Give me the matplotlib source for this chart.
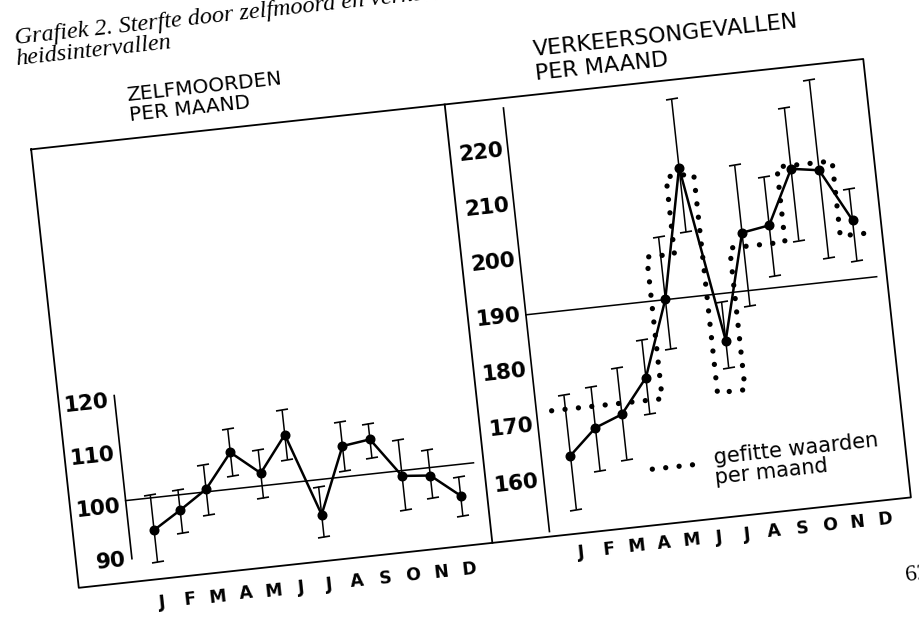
import numpy as np
import matplotlib
matplotlib.use("Agg")
import matplotlib.pyplot as plt
from matplotlib.transforms import Affine2D
from matplotlib.markers import MarkerStyle

ANGLE = 6.2  # the scanned page is tilted

# ── data ──────────────────────────────────────────────────────────────────────
months = ["J", "F", "M", "A", "M", "J", "J", "A", "S", "O", "N", "D"]

suicide    = [94.9, 98.1, 101.5, 107.9, 103.4, 110.1, 94.4, 106.8, 107.5, 100.0, 99.5, 95.1]
suicide_lo = [88.8, 93.7, 96.6, 103.4, 98.6, 105.4, 90.1, 102.1, 103.9, 93.5, 95.2, 91.2]
suicide_hi = [101.5, 102.0, 106.0, 112.3, 107.8, 114.7, 99.7, 111.3, 110.5, 106.8, 104.4, 98.7]
suicide_avg = 101
suicide_ticks = [90, 100, 110, 120]

traffic    = [163.9, 168.4, 170.3, 176.4, 190.1, 213.4, 181.5, 200.5, 201.3, 211.0, 210.2, 200.6]
traffic_lo = [154.1, 160.5, 162.1, 169.8, 181.0, 201.7, 176.6, 187.2, 192.1, 198.0, 194.2, 193.2]
traffic_hi = [174.8, 175.8, 178.7, 183.2, 201.3, 225.8, 188.5, 212.7, 210.0, 222.1, 226.5, 206.3]
traffic_fit = [172.3, 172.3, 172.3, 172.3, 198.0, 212.0, 172.3, 198.0, 198.0, 211.6, 211.6, 198.0]
traffic_avg = 190
traffic_ticks = [160, 170, 180, 190, 200, 210, 220]

# ── figure / page ─────────────────────────────────────────────────────────────
W, H = 920, 620
fig = plt.figure(figsize=(W / 100, H / 100), dpi=100)
rot = Affine2D().rotate_deg_around(W / 2, H / 2, ANGLE)

page = fig.add_axes([0, 0, 1, 1])
page.set_xlim(0, W)
page.set_ylim(H, 0)
page.set_axis_off()
page.patch.set_visible(False)
TP = page.transData + rot

dots = dict(color="k", lw=3.8, ls=(0, (0.01, 2.54)), dash_capstyle="round", clip_on=False)
txt = dict(rotation=ANGLE, rotation_mode="anchor", color="k", clip_on=False)


def px_axes(x0, x1, y0, y1):
    # rectangle in pixels of the untilted page, y measured from the top
    ax = fig.add_axes([x0 / W, 1 - y1 / H, (x1 - x0) / W, (y1 - y0) / H])
    ax.set_axis_off()
    ax.patch.set_visible(False)
    return ax


# outer frame and divider
page.plot([51, 888, 888, 51, 51], [104, 104, 545, 545, 104], color="k", lw=1.3,
          transform=TP, clip_on=False)
page.plot([467, 467], [104, 545], color="k", lw=1.3, transform=TP, clip_on=False)

# page heading (cut off by the scan)
page.text(47, -2, "Grafiek 2. Sterfte door zelfmoord en verkeersongevallen",
          family="Liberation Serif", style="italic", fontsize=17.5, va="baseline",
          transform=TP, **txt)
page.text(45.5, 19, "heidsintervallen", family="Liberation Serif", style="italic",
          fontsize=17.5, va="baseline", transform=TP, **txt)
page.text(874, 628, "62", family="Liberation Serif", fontsize=17, va="baseline",
          transform=TP, **txt)

# panel titles
page.text(151.6, 66.5, "ZELFMOORDEN", fontsize=14.5, va="baseline", transform=TP, **txt)
page.text(152, 86, "PER MAAND", fontsize=14.5, va="baseline", transform=TP, **txt)
page.text(561, 65.5, "VERKEERSONGEVALLEN", fontsize=16, va="baseline", transform=TP, **txt)
page.text(560.6, 90, "PER MAAND", fontsize=16, va="baseline", transform=TP, **txt)

# legend for the fitted values
page.plot([634, 675], [489, 489], transform=TP, **dots)
page.text(696, 490.6, "gefitte waarden", fontsize=15, va="baseline", transform=TP, **txt)
page.text(695.5, 510.7, "per maand", fontsize=15, va="baseline", transform=TP, **txt)

cap = MarkerStyle("_", transform=Affine2D().rotate_deg(ANGLE))


def panel(ax, vals, lo, hi, avg, ticks, axis_span, tick_gap, xlab_y, tick_size):
    T = ax.transData + rot
    TY = ax.get_yaxis_transform() + rot
    TX = ax.get_xaxis_transform() + rot
    x = np.arange(1, len(vals) + 1)

    # inner y axis and average line
    ax.plot([0, 0], axis_span, color="k", lw=1.2, transform=TY, clip_on=False)
    ax.plot([0, 0.972], [avg, avg], color="k", lw=1.1, transform=TY, clip_on=False)

    # confidence intervals
    ax.vlines(x, lo, hi, colors="k", lw=1.1, transform=T, clip_on=False)
    for ends in (lo, hi):
        ax.plot(x, ends, ls="none", marker=cap, ms=8, mew=1.2, color="k",
                transform=T, clip_on=False)

    ax.plot(x, vals, "-o", color="k", lw=1.8, ms=6.2, transform=T, clip_on=False)

    for v in ticks:
        ax.text(-tick_gap, v, str(v), fontsize=tick_size, fontweight="bold",
                ha="right", va="center", transform=TY, **txt)
    for xi, m in zip(x, months):
        ax.text(xi, xlab_y, m, fontsize=12.5, fontweight="bold",
                ha="center", va="center", transform=TX, **txt)
    return T


# ── left: zelfmoorden ─────────────────────────────────────────────────────────
axL = px_axes(107, 467, 104, 545)
axL.set_xlim(0.105, 12.941)
axL.set_ylim(85.63, 168.68)
panel(axL, suicide, suicide_lo, suicide_hi, suicide_avg, suicide_ticks,
      [90, 120.9], 6 / 360, -0.054, 15.5)

# ── right: verkeersongevallen ─────────────────────────────────────────────────
axR = px_axes(525, 888, 104, 545)
axR.set_xlim(-0.047, 13.01)
axR.set_ylim(149.78, 229.28)
TR = panel(axR, traffic, traffic_lo, traffic_hi, traffic_avg, traffic_ticks,
           [150.7, 227.5], 5 / 363, -0.043, 15.5)

# fitted monthly values as a dotted step line
edges = np.arange(0.5, len(traffic_fit) + 1, 1.0)
axR.plot(np.repeat(edges, 2)[1:-1], np.repeat(traffic_fit, 2), transform=TR, **dots)

fig.savefig("out.png", dpi=100)
